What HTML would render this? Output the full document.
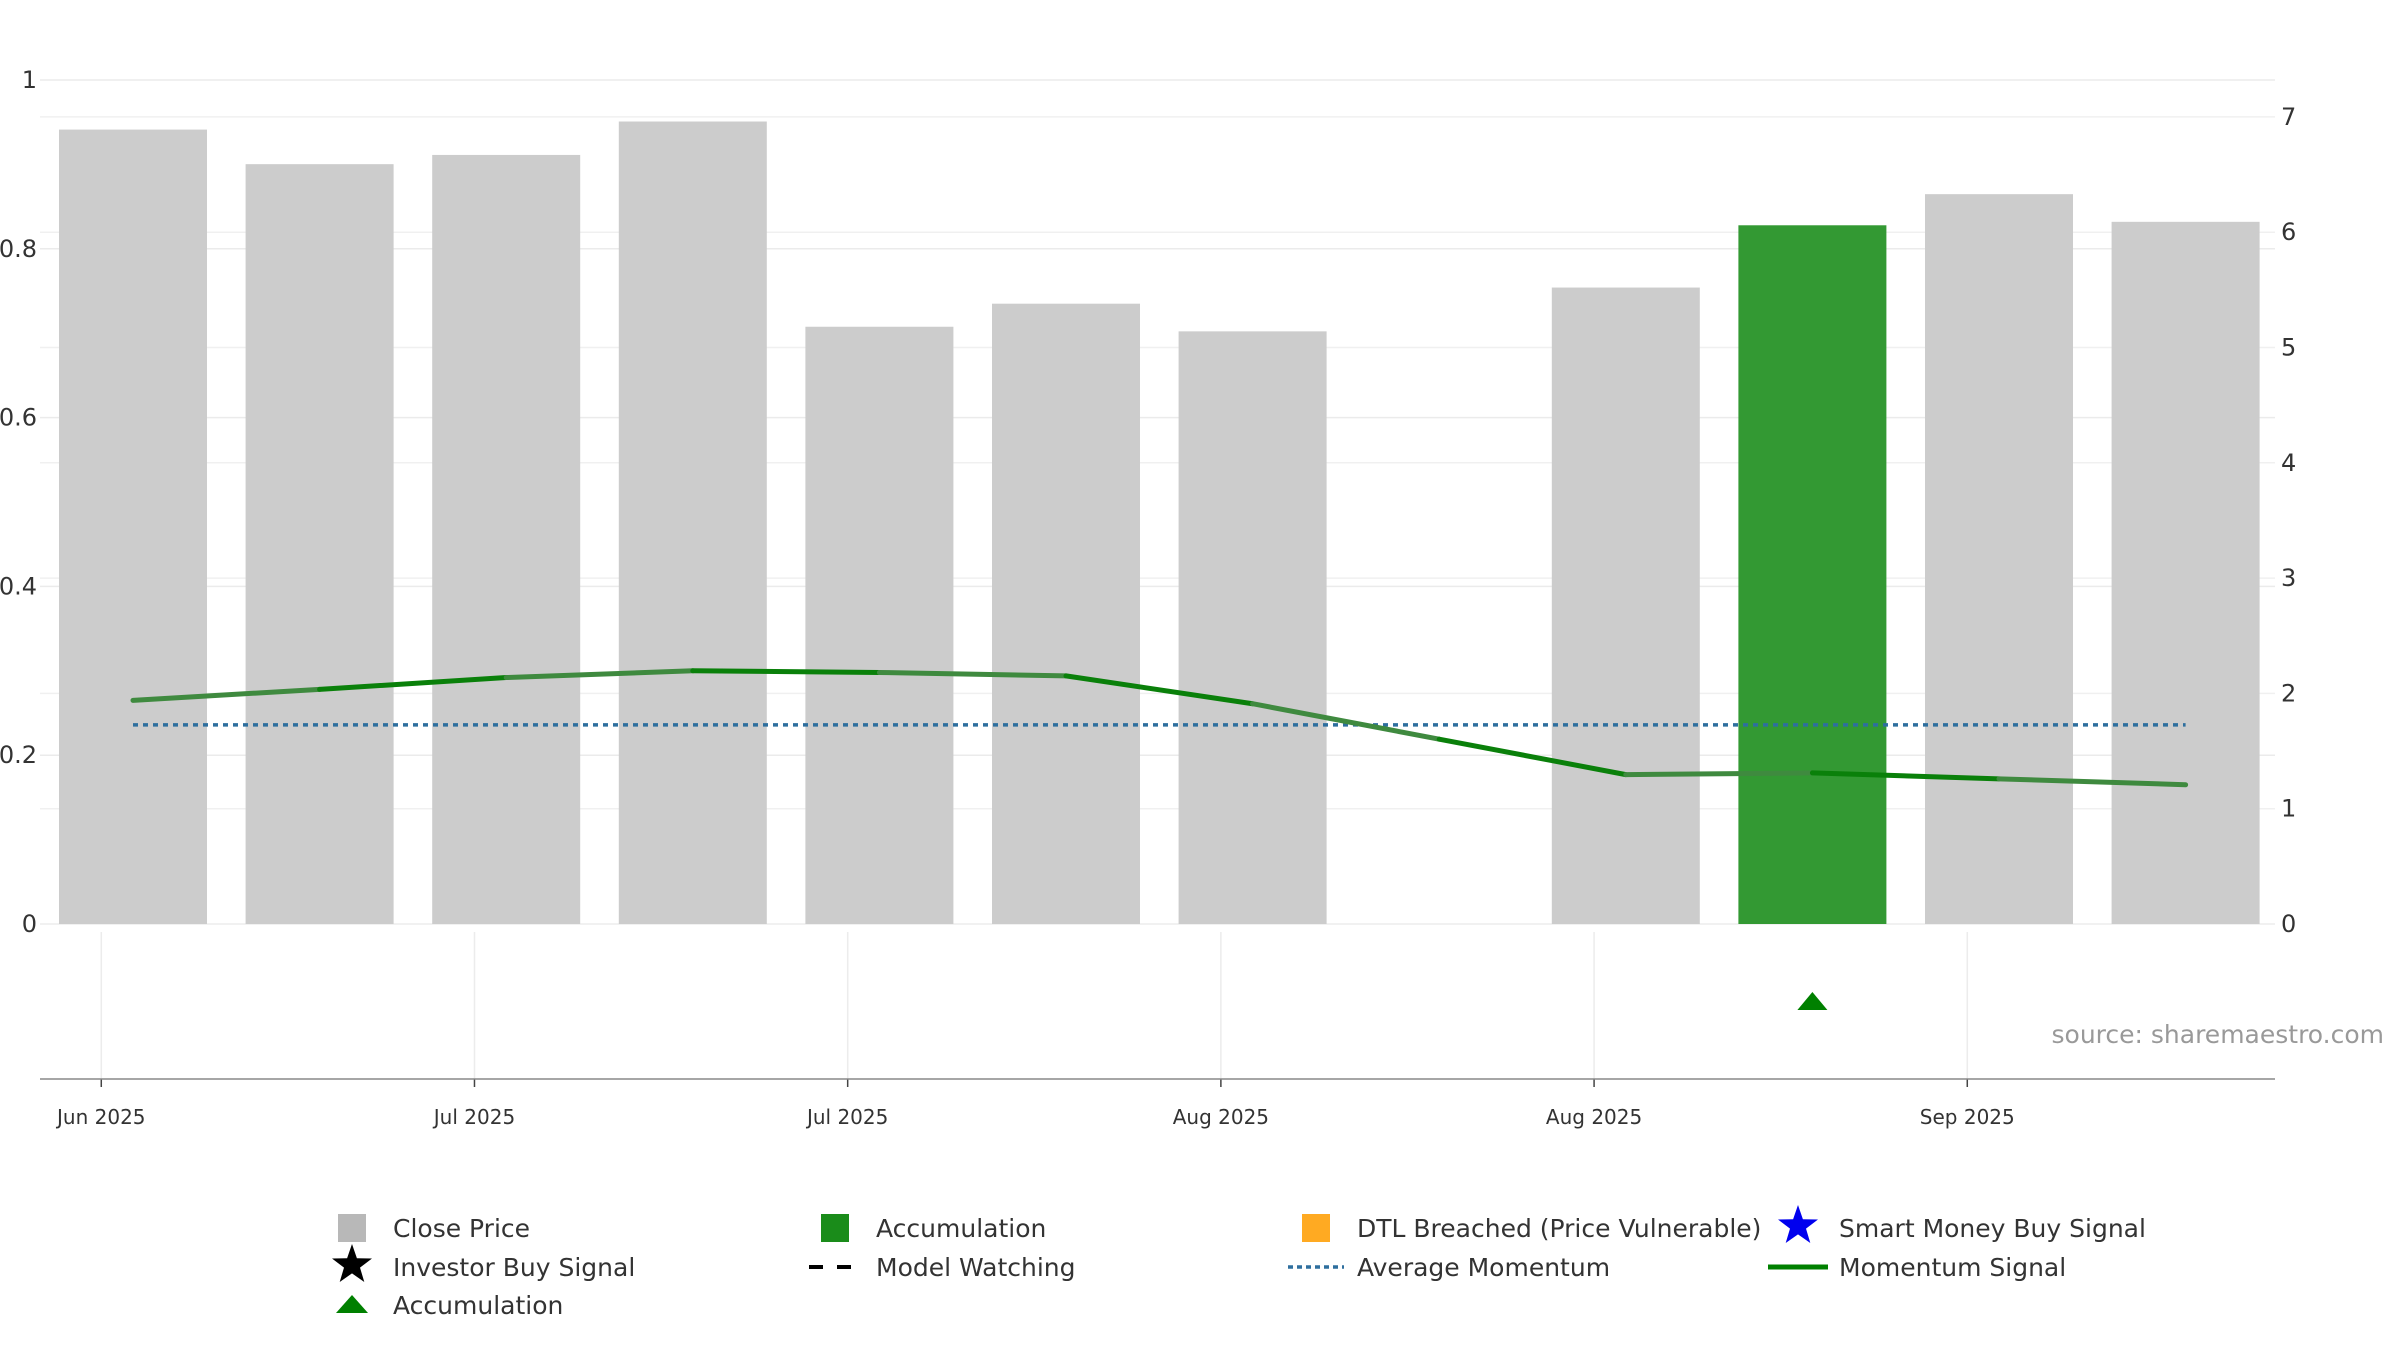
<!DOCTYPE html>
<html><head><meta charset="utf-8"><style>
body{margin:0;background:#fff;width:2400px;height:1350px;overflow:hidden;font-family:"Liberation Sans","DejaVu Sans",sans-serif}
svg text{font-family:"DejaVu Sans","Liberation Sans",sans-serif}
</style></head><body>
<svg id="chart" width="2400" height="1350" xmlns="http://www.w3.org/2000/svg"></svg>
<script>
const categories=["b1","b2","b3","b4","b5","b6","b7","b8","b9","b10","b11","b12"];
const closePrice=[6.89,6.59,6.67,6.96,5.18,5.38,5.14,null,5.52,6.06,6.33,6.09];
const accumulationFlag=[0,0,0,0,0,0,0,0,0,1,0,0];
const momentum=[0.265,0.278,0.292,0.300,0.298,0.294,0.261,0.219,0.177,0.179,0.172,0.165];
const avgMomentum=0.236;
const leftTicks=[0,0.2,0.4,0.6,0.8,1];
const leftTickLabels=["0","0.2","0.4","0.6","0.8","1"];
const rightTicks=[0,1,2,3,4,5,6,7];
const xTickLabels=["Jun 2025","Jul 2025","Jul 2025","Aug 2025","Aug 2025","Sep 2025"];
const xTickPos=[-0.17,1.83,3.83,5.83,7.83,9.83];

const svg=document.getElementById('chart');
const NS='http://www.w3.org/2000/svg';
function el(t,a,p){const e=document.createElementNS(NS,t);for(const k in a)e.setAttribute(k,a[k]);(p||svg).appendChild(e);return e;}
const X=i=>133+i*186.6;
const YL=v=>924-v*844;
const YR=v=>924-v*115.3;

// gridlines
leftTicks.forEach((t,i)=>{
  const g=el('line',{x1:40,x2:2275,y1:YL(t),y2:YL(t),stroke:'#ebebeb','stroke-width':1.5});
  
  const tx=el('text',{x:37,y:YL(t)+8,'text-anchor':'end','font-size':24,fill:'#333'});
  tx.textContent=leftTickLabels[i];
  
});
rightTicks.forEach(t=>{
  const g=el('line',{x1:40,x2:2275,y1:YR(t),y2:YR(t),stroke:'#f0f0f0','stroke-width':1.5});
  
  const tx=el('text',{x:2281,y:YR(t)+8,'font-size':24,fill:'#333'});
  tx.textContent=String(t);
  
});
// bars
closePrice.forEach((v,i)=>{
  if(v==null)return;
  const acc=accumulationFlag[i]===1;
  const r=el('rect',{x:X(i)-74,y:YR(v),width:148,height:YR(0)-YR(v),fill:acc?'#339933':'#cccccc'});
  
});
// avg momentum
const av=el('line',{x1:X(0),x2:X(11),y1:YL(avgMomentum),y2:YL(avgMomentum),stroke:'#2e6f9e','stroke-width':3.5,'stroke-dasharray':'5 5'});

// momentum line
for(let i=0;i<momentum.length-1;i++){
  const s=el('line',{x1:X(i),y1:YL(momentum[i]),x2:X(i+1),y2:YL(momentum[i+1]),stroke:i%2?'#0a800a':'#3f8a3f','stroke-width':5,'stroke-linecap':'round'});
  
}
// bottom panel grid
xTickPos.forEach((p,i)=>{
  const x=X(p);
  const g=el('line',{x1:x,x2:x,y1:932,y2:1079,stroke:'#ececec','stroke-width':1.5});
  
  const tk=el('line',{x1:x,x2:x,y1:1079,y2:1087,stroke:'#444','stroke-width':1.5});
  
  const tx=el('text',{x:x,y:1124,'text-anchor':'middle','font-size':20,fill:'#333'});
  tx.textContent=xTickLabels[i];
  
});
const ax=el('line',{x1:40,x2:2275,y1:1079,y2:1079,stroke:'#888','stroke-width':1.5});

// accumulation markers
accumulationFlag.forEach((f,i)=>{
  if(!f)return;
  const x=X(i);
  const t=el('polygon',{points:`${x-15},1010 ${x+15},1010 ${x},992`,fill:'#008000'});
  
});
const src=el('text',{x:2384,y:1043,'text-anchor':'end','font-size':25,fill:'#999'});
src.textContent='source: sharemaestro.com';


// legend
const star=(cx,cy,r,fill)=>{let p=[];for(let k=0;k<10;k++){const a=-Math.PI/2+k*Math.PI/5,rr=k%2?r*0.4:r;p.push((cx+rr*Math.cos(a)).toFixed(1)+','+(cy+rr*Math.sin(a)).toFixed(1));}return el('polygon',{points:p.join(' '),fill:fill});};
const legend=[
 {x:352,y:1228,t:'Close Price',k:'sq',c:'#b8b8b8'},
 {x:835,y:1228,t:'Accumulation',k:'sq',c:'#1a8c1a'},
 {x:1316,y:1228,t:'DTL Breached (Price Vulnerable)',k:'sq',c:'#ffaa22'},
 {x:1798,y:1228,t:'Smart Money Buy Signal',k:'star',c:'#0000ee'},
 {x:352,y:1267,t:'Investor Buy Signal',k:'star',c:'#000'},
 {x:835,y:1267,t:'Model Watching',k:'dash',c:'#000'},
 {x:1316,y:1267,t:'Average Momentum',k:'dot',c:'#2e6f9e'},
 {x:1798,y:1267,t:'Momentum Signal',k:'line',c:'#008000'},
 {x:352,y:1305,t:'Accumulation',k:'tri',c:'#008000'}
];
legend.forEach(L=>{
  const g=el('g',{});
  
  let m;
  if(L.k==='sq')m=el('rect',{x:L.x-14,y:L.y-14,width:28,height:28,fill:L.c},g);
  else if(L.k==='star'){m=star(L.x,L.y-2,21,L.c);g.appendChild(m);}
  else if(L.k==='dash')m=el('line',{x1:L.x-26,x2:L.x+26,y1:L.y,y2:L.y,stroke:L.c,'stroke-width':4,'stroke-dasharray':'14 14'},g);
  else if(L.k==='dot')m=el('line',{x1:L.x-28,x2:L.x+28,y1:L.y,y2:L.y,stroke:L.c,'stroke-width':3.5,'stroke-dasharray':'5 4'},g);
  else if(L.k==='line')m=el('line',{x1:L.x-30,x2:L.x+30,y1:L.y,y2:L.y,stroke:L.c,'stroke-width':5},g);
  else m=el('polygon',{points:`${L.x-16},${L.y+8} ${L.x+16},${L.y+8} ${L.x},${L.y-10}`,fill:L.c},g);
  
  const tx=el('text',{x:L.x+41,y:L.y+9,'font-size':25,fill:'#333'},g);
  tx.textContent=L.t;
  
});
</script>
</body></html>
